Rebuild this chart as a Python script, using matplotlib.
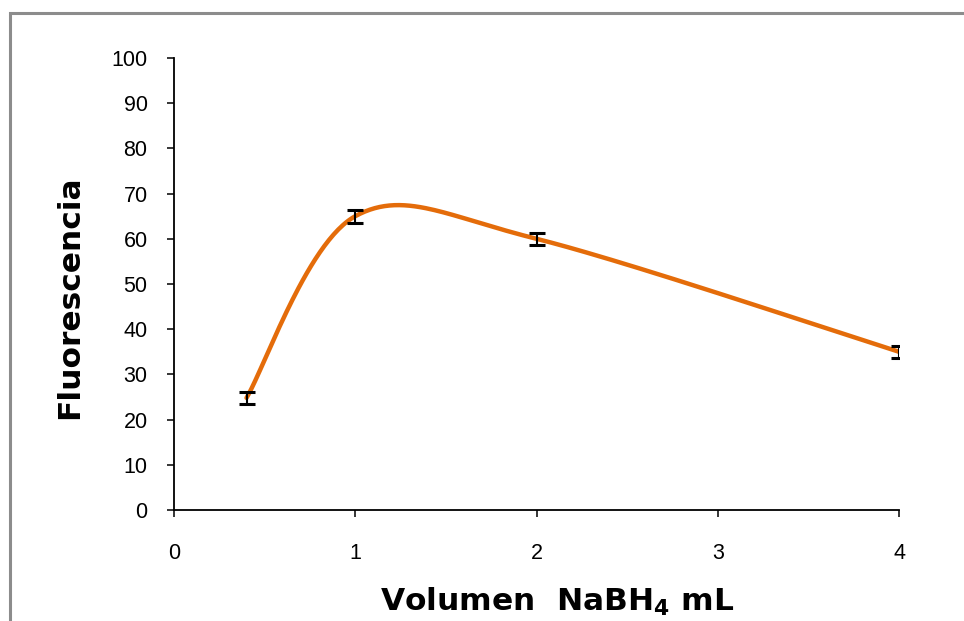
import numpy as np
import matplotlib.pyplot as plt
from matplotlib.patches import Rectangle

# data
volumen = [0.4, 1, 2, 4]
fluorescencia = [24.8, 65.0, 60.0, 35.0]
error = [1.4, 1.4, 1.3, 1.3]
x_ticks = [0, 1, 2, 3, 4]
y_ticks = [0, 10, 20, 30, 40, 50, 60, 70, 80, 90, 100]

orange = '#E46C0A'


def smooth_line(xs, ys, n=60):
    # Excel-style smoothed line: Catmull-Rom segments as cubic Bezier curves
    pts = np.column_stack([xs, ys]).astype(float)
    ext = np.vstack([pts[0], pts, pts[-1]])
    out = []
    for i in range(len(pts) - 1):
        p0, p1, p2, p3 = ext[i], ext[i + 1], ext[i + 2], ext[i + 3]
        c1 = p1 + (p2 - p0) / 6
        c2 = p2 - (p3 - p1) / 6
        t = np.linspace(0, 1, n)[:, None]
        seg = ((1 - t) ** 3) * p1 + 3 * ((1 - t) ** 2) * t * c1 \
            + 3 * (1 - t) * t ** 2 * c2 + t ** 3 * p2
        out.append(seg)
    out = np.vstack(out)
    return out[:, 0], out[:, 1]


fig = plt.figure(figsize=(9.64, 6.21), dpi=100)
ax = fig.add_axes([174 / 964, 1 - 510 / 621, 725 / 964, 452 / 621])

sx, sy = smooth_line(volumen, fluorescencia)
ax.plot(sx, sy, color=orange, lw=3.2, solid_capstyle='round', zorder=2)
ax.errorbar(volumen, fluorescencia, yerr=error, fmt='none', ecolor='black',
            elinewidth=1.5, capsize=5.5, capthick=2.2, zorder=3)

ax.set_xlim(0, 4)
ax.set_ylim(0, 100)
ax.set_xticks(x_ticks)
ax.set_yticks(y_ticks)
ax.tick_params(axis='both', direction='out', length=5, width=1.1,
               labelsize=15.5, colors='black')
ax.tick_params(axis='y', pad=14)
ax.tick_params(axis='x', pad=19)
for lab in ax.get_xticklabels() + ax.get_yticklabels():
    lab.set_family('Liberation Sans')

for s in ['top', 'right']:
    ax.spines[s].set_visible(False)
for s in ['left', 'bottom']:
    ax.spines[s].set_linewidth(1.3)
    ax.spines[s].set_color('black')

fig.text(70 / 964, 1 - 297 / 621, 'Fluorescencia', rotation=90,
         ha='center', va='center', fontsize=22.5, fontweight='bold',
         family='DejaVu Sans')
fig.text(557 / 964, 1 - 602 / 621, r'Volumen  NaBH$_\mathbf{4}$ mL',
         ha='center', va='center', fontsize=22.5, fontweight='bold',
         family='DejaVu Sans')

# grey chart frame (cut off at right and bottom)
fig.patches.append(Rectangle((10 / 964, -0.2), 1.2, 1.2 - 13 / 621,
                             transform=fig.transFigure, fill=False,
                             edgecolor='#8c8c8c', linewidth=2.2))

fig.savefig('out.png', dpi=100)
plt.close(fig)
